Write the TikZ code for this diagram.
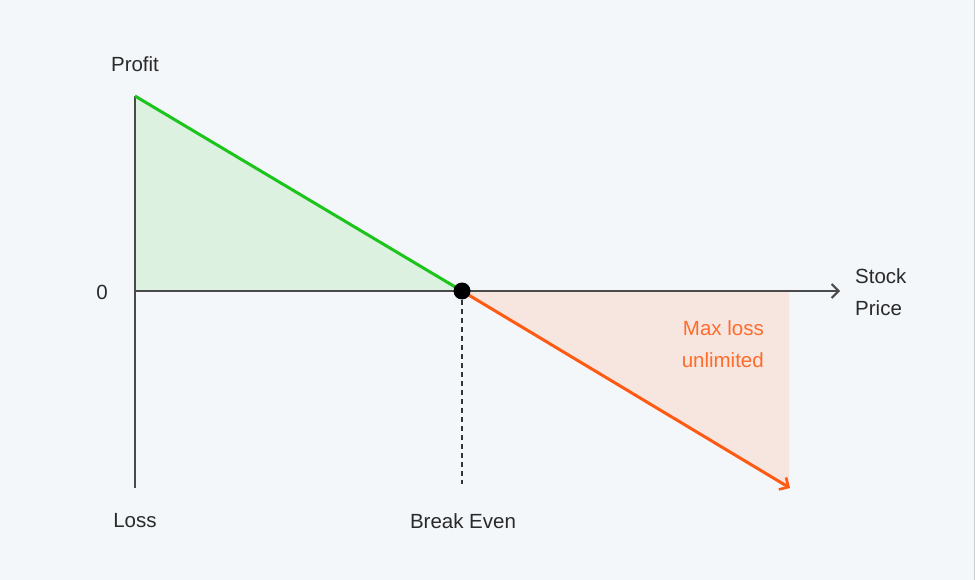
\documentclass[tikz,border=0pt]{standalone}
\usepackage{fontspec}
\setmainfont{Liberation Sans}
\usetikzlibrary{arrows.meta}
\definecolor{bgc}{HTML}{F3F7FA}
\definecolor{axisc}{HTML}{4A4A4A}
\definecolor{greenl}{HTML}{1CC41C}
\definecolor{greenf}{HTML}{DCF1E0}
\definecolor{orangel}{HTML}{FF5A14}
\definecolor{orangef}{HTML}{F7E6E0}
\definecolor{orangetxt}{HTML}{FF6B2B}
\definecolor{txtc}{HTML}{2A2A2A}
\tikzset{
  lbl/.style={font=\fontsize{20.5}{24}\selectfont, text=txtc, inner sep=0pt},
  olbl/.style={font=\fontsize{20.5}{24}\selectfont, text=orangetxt, inner sep=0pt},
  axisline/.style={draw=axisc, line width=2pt},
}
\begin{document}
\begin{tikzpicture}[x=1pt,y=-1pt]
\fill[bgc] (0,0) rectangle (975,580);
\useasboundingbox (0,0) rectangle (975,580);
\draw[gray!40, line width=1pt] (974,0) -- (974,580);
% coordinates
\coordinate (top) at (135,96);
\coordinate (origin) at (135,291);
\coordinate (bot) at (135,488);
\coordinate (be) at (462,291);
\coordinate (xend) at (840,291);
\coordinate (oend) at (790,488);
\coordinate (fillcorner) at (789,291);
\coordinate (fillbot) at (789,486);
\coordinate (dashend) at (462,484);
% fills
\fill[greenf] (top) -- (be) -- (origin) -- cycle;
\fill[orangef] (be) -- (fillcorner) -- (fillbot) -- cycle;
% axes
\draw[axisline] (top) -- (bot);
\draw[axisline, -{Straight Barb[length=7pt,width=14pt,line width=2pt]}] (origin) -- (xend);
% dashed
\draw[black!80, line width=1.8pt, dash pattern=on 5pt off 4pt] (be) -- (dashend);
% payoff lines
\draw[greenl, line width=3pt] (top) -- (be);
\draw[orangel, line width=3pt, -{Straight Barb[length=7pt,width=14pt,line width=2.6pt]}] (be) -- (oend);
% dot
\fill[black] (be) circle (8.5);
% labels
\node[lbl] (profit) at (135,64) {Profit};
\node[lbl] (zero) at (102,292) {0};
\node[lbl] (loss) at (135,521) {Loss};
\node[lbl] (bel) at (463,521) {Break Even};
\node[lbl, anchor=west] (stock) at (855,276) {Stock};
\node[lbl, anchor=west] (price) at (855,308) {Price};
\node[olbl, anchor=east] (maxloss) at (764,328) {Max loss};
\node[olbl, anchor=east] (unlim) at (764,360) {unlimited};
\end{tikzpicture}
\end{document}
